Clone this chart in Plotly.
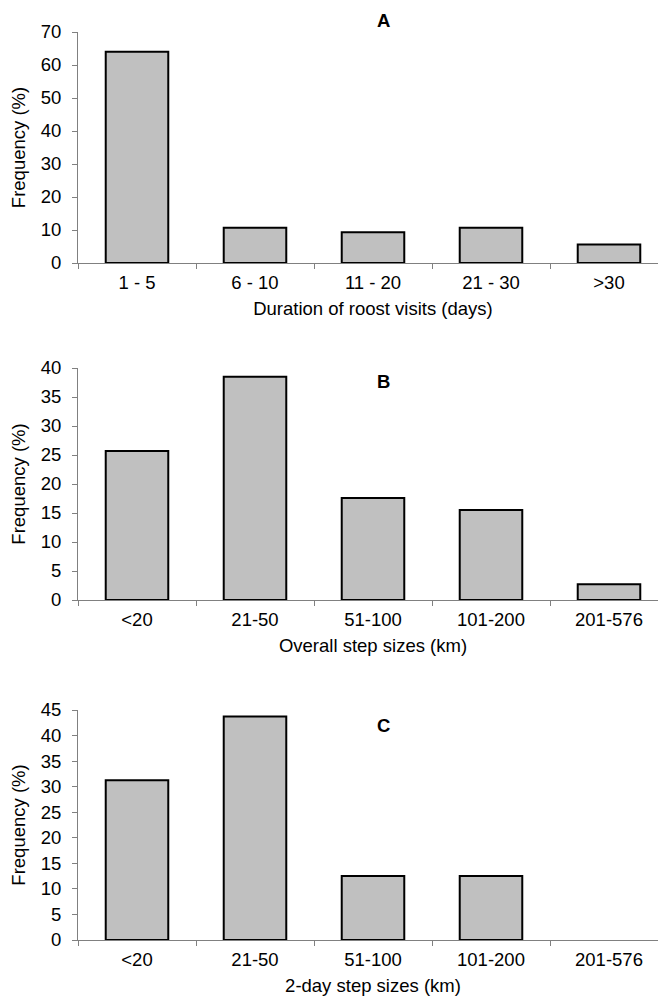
import plotly.graph_objects as go

# Data
cats_a = ["1 - 5", "6 - 10", "11 - 20", "21 - 30", ">30"]
vals_a = [64.0, 10.7, 9.3, 10.7, 5.6]

cats_b = ["<20", "21-50", "51-100", "101-200", "201-576"]
vals_b = [25.7, 38.5, 17.6, 15.5, 2.7]

cats_c = ["<20", "21-50", "51-100", "101-200", "201-576"]
vals_c = [31.25, 43.75, 12.5, 12.5, 0.0]

panel_letters = ["A", "B", "C"]
x_titles = ["Duration of roost visits (days)", "Overall step sizes (km)", "2-day step sizes (km)"]
y_ranges = [70, 40, 45]
y_dtick = [10, 5, 5]

W, H = 666, 1000
FONT = "Liberation Sans, Arial, sans-serif"
FS = 18.5
AX_GREY = "#808080"

# pixel layout (top, bottom) of each plot area
px_x = (70, 660)
px_y = [(24, 255), (360, 592), (702, 932)]
title_y = [12, 373, 717]
title_x = 375

fig = go.Figure()
panels = [(cats_a, vals_a), (cats_b, vals_b), (cats_c, vals_c)]
for i, (cats, vals) in enumerate(panels):
    n = i + 1
    xa = "x" if n == 1 else f"x{n}"
    ya = "y" if n == 1 else f"y{n}"
    fig.add_trace(go.Bar(
        x=cats, y=vals, xaxis=xa, yaxis=ya,
        width=0.53,
        marker=dict(color="#C0C0C0",
                    line=dict(color="black", width=[2 if v > 0 else 0 for v in vals])),
        showlegend=False,
    ))
    top, bot = px_y[i]
    xdom = [px_x[0] / W, px_x[1] / W]
    ydom = [1 - bot / H, 1 - top / H]
    xkey = "xaxis" if n == 1 else f"xaxis{n}"
    ykey = "yaxis" if n == 1 else f"yaxis{n}"
    fig.update_layout(**{
        xkey: dict(
            domain=xdom, anchor=ya, type="category",
            range=[-0.5, 4.5], tickson="boundaries",
            ticks="outside", ticklen=5, tickcolor=AX_GREY, tickwidth=1,
            ticklabelstandoff=3,
            showline=True, linecolor=AX_GREY, linewidth=1,
            showgrid=False, zeroline=False,
            tickfont=dict(family=FONT, size=FS, color="black"),
            title=dict(text=x_titles[i], font=dict(family=FONT, size=FS, color="black"), standoff=9),
            automargin=False,
        ),
        ykey: dict(
            domain=ydom, anchor=xa,
            range=[0, y_ranges[i]], dtick=y_dtick[i], tick0=0,
            ticks="outside", ticklen=5, tickcolor=AX_GREY, tickwidth=1,
            ticklabelstandoff=7,
            showline=True, linecolor=AX_GREY, linewidth=1,
            showgrid=False, zeroline=False,
            tickfont=dict(family=FONT, size=FS, color="black"),
            title=dict(text="Frequency (%)", font=dict(family=FONT, size=FS, color="black"), standoff=17),
            automargin=False,
        ),
    })
    fig.add_annotation(
        x=title_x / W, y=1 - title_y[i] / H, xref="paper", yref="paper",
        text=f"<b>{panel_letters[i]}</b>", showarrow=False,
        font=dict(family=FONT, size=FS, color="black"),
        xanchor="center", yanchor="middle",
    )

fig.update_layout(
    width=W, height=H,
    margin=dict(l=0, r=0, t=0, b=0),
    paper_bgcolor="white", plot_bgcolor="white",
    bargap=0.47,
)

fig.write_html("out.html")
